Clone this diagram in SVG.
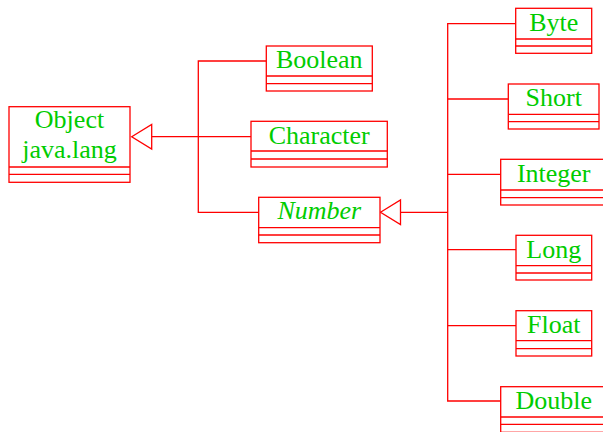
<svg xmlns="http://www.w3.org/2000/svg" width="603" height="432" viewBox="0 0 603 432">
<style>
.b{fill:#fff;stroke:#ff0000;stroke-width:1.3}
.l{fill:none;stroke:#ff0000;stroke-width:1.3}
.t{font-size:26px;fill:#00cc00;text-anchor:middle}
.i{font-style:italic}
</style>
<rect width="603" height="432" fill="#fff"/>
<g id="connectors" class="l">
<polyline points="152,136.7 198.3,136.7"/>
<polyline points="266.3,61 198.3,61 198.3,212.3 258.7,212.3"/>
<polyline points="198.3,136.7 251,136.7"/>
<polygon points="131.7,136.7 151.7,124.5 151.7,149"/>
<polyline points="400,212.3 447.7,212.3"/>
<polygon points="380.5,212.3 400.5,200 400.5,224.5"/>
<polyline points="515.7,23.7 447.7,23.7 447.7,401 500.7,401"/>
<polyline points="447.7,99 508.3,99"/>
<polyline points="447.7,174.3 500.7,174.3"/>
<polyline points="447.7,249.7 516,249.7"/>
<polyline points="447.7,325.7 516,325.7"/>
</g>
<g font-family="'Liberation Serif', 'Times New Roman', serif">
<g id="Object">
<rect class="b" x="9" y="106.7" width="121" height="75.6"/>
<path class="l" d="M9,167H130M9,174.3H130"/>
<text class="t" x="69.5" y="128.3">Object</text>
<text class="t" x="69.5" y="158.3">java.lang</text>
</g>
<g id="Boolean">
<rect class="b" x="266.3" y="46" width="106" height="45"/>
<path class="l" d="M266.3,76H372.3M266.3,83.7H372.3"/>
<text class="t" x="319.3" y="68.3">Boolean</text>
</g>
<g id="Character">
<rect class="b" x="251" y="121.3" width="136.3" height="45.7"/>
<path class="l" d="M251,151H387.3M251,159H387.3"/>
<text class="t" x="319.2" y="143.7">Character</text>
</g>
<g id="Number">
<rect class="b" x="258.7" y="197.3" width="121.3" height="45.4"/>
<path class="l" d="M258.7,227.7H380M258.7,235H380"/>
<text class="t i" x="319.3" y="219.3">Number</text>
</g>
<g id="Byte">
<rect class="b" x="515.7" y="8.3" width="76" height="45"/>
<path class="l" d="M515.7,39H591.7M515.7,46H591.7"/>
<text class="t" x="553.7" y="30.7">Byte</text>
</g>
<g id="Short">
<rect class="b" x="508.3" y="84" width="90.7" height="45"/>
<path class="l" d="M508.3,114.3H599M508.3,121.7H599"/>
<text class="t" x="553.7" y="106.3">Short</text>
</g>
<g id="Integer">
<rect class="b" x="500.7" y="159.3" width="106" height="45.7"/>
<path class="l" d="M500.7,190H606.7M500.7,197.7H606.7"/>
<text class="t" x="553.7" y="181.7">Integer</text>
</g>
<g id="Long">
<rect class="b" x="516" y="235.3" width="75.7" height="44.7"/>
<path class="l" d="M516,265.7H591.7M516,273H591.7"/>
<text class="t" x="553.8" y="257.7">Long</text>
</g>
<g id="Float">
<rect class="b" x="516" y="310.7" width="75.7" height="45.3"/>
<path class="l" d="M516,340.7H591.7M516,348.7H591.7"/>
<text class="t" x="553.8" y="333">Float</text>
</g>
<g id="Double">
<rect class="b" x="500.7" y="386.7" width="106" height="45.6"/>
<path class="l" d="M500.7,417H606.7M500.7,424.3H606.7"/>
<text class="t" x="553.7" y="409">Double</text>
</g>
</g>
</svg>
